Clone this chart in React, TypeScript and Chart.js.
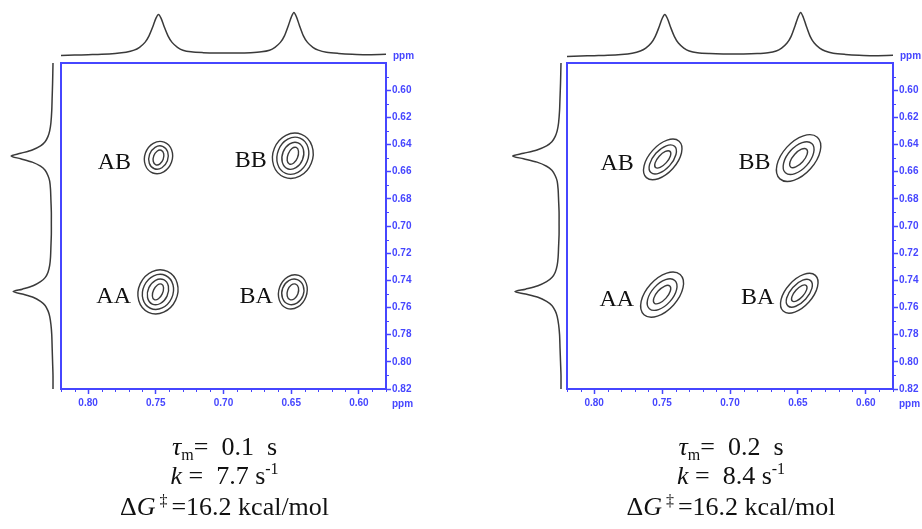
import React, { useEffect, useRef } from 'react';
import { Chart, registerables } from 'chart.js';

Chart.register(...registerables);

// ---------- data ----------
const axisMin = 0.58;
const axisMax = 0.82;
const tickStep = 0.01;

// 1D projections (ppm, relative intensity)
const topProjPpm = [0.820, 0.810, 0.800, 0.790, 0.780, 0.772, 0.766, 0.762, 0.758, 0.755, 0.752, 0.750, 0.748, 0.746, 0.744, 0.741, 0.738, 0.734, 0.730, 0.724, 0.715, 0.705, 0.698, 0.690, 0.680, 0.672, 0.666, 0.662, 0.658, 0.655, 0.652, 0.650, 0.648, 0.646, 0.644, 0.641, 0.638, 0.634, 0.630, 0.624, 0.615, 0.605, 0.595, 0.580];
const topProjInt = [0.00, 0.01, 0.02, 0.03, 0.05, 0.08, 0.13, 0.20, 0.32, 0.48, 0.72, 0.90, 1.00, 0.90, 0.72, 0.48, 0.32, 0.20, 0.13, 0.09, 0.07, 0.06, 0.06, 0.06, 0.07, 0.09, 0.13, 0.20, 0.32, 0.48, 0.74, 0.93, 1.05, 0.93, 0.74, 0.48, 0.32, 0.20, 0.13, 0.08, 0.05, 0.03, 0.02, 0.03];
const leftProjPpm = [0.580, 0.595, 0.605, 0.615, 0.624, 0.630, 0.634, 0.638, 0.641, 0.644, 0.6465, 0.6485, 0.6505, 0.653, 0.656, 0.659, 0.663, 0.667, 0.673, 0.681, 0.690, 0.698, 0.706, 0.715, 0.723, 0.729, 0.734, 0.738, 0.741, 0.744, 0.7465, 0.7483, 0.7501, 0.7525, 0.7555, 0.7585, 0.7625, 0.7665, 0.7725, 0.780, 0.790, 0.800, 0.810, 0.820];
const leftProjInt = [0.00, 0.01, 0.02, 0.03, 0.05, 0.08, 0.12, 0.19, 0.30, 0.50, 0.78, 1.01, 0.78, 0.50, 0.30, 0.19, 0.12, 0.08, 0.06, 0.05, 0.04, 0.04, 0.04, 0.05, 0.06, 0.08, 0.12, 0.19, 0.30, 0.48, 0.74, 0.96, 0.74, 0.48, 0.30, 0.19, 0.12, 0.08, 0.05, 0.03, 0.02, 0.01, 0.00, 0.00];

// cross peaks
const peakLabels = ['AB', 'BB', 'AA', 'BA'];

// panel 1 (tau_m = 0.1 s)
const p1PeakX = [0.748, 0.6488, 0.7484, 0.6488];
const p1PeakY = [0.6496, 0.6483, 0.7485, 0.7485];
const p1Tilt = [20, 22, 25, 20];
const p1Rings = [
  [[0.0037, 0.0057], [0.0070, 0.0088], [0.0102, 0.0121]],
  [[0.0037, 0.0066], [0.0077, 0.0103], [0.0114, 0.0140], [0.0147, 0.0170]],
  [[0.0035, 0.0063], [0.0074, 0.0099], [0.0111, 0.0133], [0.0144, 0.0166]],
  [[0.0040, 0.0061], [0.0080, 0.0096], [0.0103, 0.0129]],
];

// panel 2 (tau_m = 0.2 s)
const p2PeakX = [0.7495, 0.6495, 0.7500, 0.6490];
const p2PeakY = [0.6510, 0.6500, 0.7505, 0.7495];
const p2Tilt = [42, 42, 42, 42];
const p2Rings = [
  [[0.0035, 0.0080], [0.0068, 0.0130], [0.0100, 0.0180]],
  [[0.0040, 0.0088], [0.0080, 0.0145], [0.0118, 0.0206]],
  [[0.0039, 0.0085], [0.0077, 0.0140], [0.0114, 0.0199]],
  [[0.0033, 0.0077], [0.0064, 0.0125], [0.0096, 0.0177]],
];

// captions
const captionTau = ['0.1', '0.2'];
const captionK = ['7.7', '8.4'];
const captionDG = ['16.2', '16.2'];

// ---------- styles ----------
const BLUE = '#4646ff';
const INK = '#3a3a3a';
const SANS = '"Liberation Sans", Arial, sans-serif';
const SERIF = '"Liberation Serif", "Times New Roman", serif';
const W = 461;
const H = 529;
const AREA_TOP = 63;
const AREA_BOTTOM = 389;
const CAPTION_SIZE = 26;

const isMajorX = (v: number) => Math.round(v * 100) % 5 === 0;
const isMajorY = (v: number) => Math.round(v * 100) % 2 === 0;

type Seg = { t: string; it?: boolean; sm?: boolean; dy?: number };

function drawRich(ctx: CanvasRenderingContext2D, segs: Seg[], cx: number, base: number, size: number) {
  const fontFor = (s: Seg) => `${s.it ? 'italic ' : ''}${s.sm ? Math.round(size * 0.62) : size}px ${SERIF}`;
  let total = 0;
  for (const s of segs) {
    ctx.font = fontFor(s);
    total += ctx.measureText(s.t).width;
  }
  let xx = cx - total / 2;
  ctx.textAlign = 'left';
  ctx.textBaseline = 'alphabetic';
  for (const s of segs) {
    ctx.font = fontFor(s);
    ctx.fillText(s.t, xx, base + (s.dy || 0));
    xx += ctx.measureText(s.t).width;
  }
}

const decorPlugin = {
  id: 'panelDecor',
  afterDatasetsDraw(chart: any, _args: any, opts: any) {
    const { ctx, chartArea: a, scales } = chart;
    const x = scales.x;
    const y = scales.y;
    ctx.save();

    // frame
    ctx.strokeStyle = BLUE;
    ctx.lineWidth = 2;
    ctx.strokeRect(a.left, a.top, a.right - a.left, a.bottom - a.top);

    // minor ticks
    ctx.lineWidth = 1;
    for (const t of x.ticks) {
      if (isMajorX(t.value)) continue;
      const px = Math.round(x.getPixelForValue(t.value)) + 0.5;
      ctx.beginPath();
      ctx.moveTo(px, a.bottom);
      ctx.lineTo(px, a.bottom + 3);
      ctx.stroke();
    }
    for (const t of y.ticks) {
      if (isMajorY(t.value)) continue;
      const py = Math.round(y.getPixelForValue(t.value)) + 0.5;
      ctx.beginPath();
      ctx.moveTo(a.right, py);
      ctx.lineTo(a.right + 3, py);
      ctx.stroke();
    }

    // ppm unit labels
    ctx.fillStyle = BLUE;
    ctx.font = `bold 10px ${SANS}`;
    ctx.textAlign = 'left';
    ctx.textBaseline = 'middle';
    ctx.fillText('ppm', a.right + 7, a.top - 7);
    ctx.fillText('ppm', a.right + 6, a.bottom + 15);

    // contours
    ctx.strokeStyle = INK;
    ctx.lineWidth = 1.4;
    const { px: pX, py: pY, tilt, rings, labelGap } = opts;
    for (let i = 0; i < pX.length; i++) {
      const cx = x.getPixelForValue(pX[i]);
      const cy = y.getPixelForValue(pY[i]);
      for (const r of rings[i]) {
        const rx = Math.abs(x.getPixelForValue(pX[i] + r[0]) - cx);
        const ry = Math.abs(y.getPixelForValue(pY[i] + r[1]) - cy);
        ctx.beginPath();
        ctx.ellipse(cx, cy, rx, ry, (tilt[i] * Math.PI) / 180, 0, Math.PI * 2);
        ctx.stroke();
      }
      ctx.fillStyle = '#111';
      ctx.font = `24px ${SERIF}`;
      ctx.textAlign = 'right';
      ctx.textBaseline = 'alphabetic';
      ctx.fillText(peakLabels[i], cx - labelGap[i], cy + 11);
    }

    // caption
    const cxText = (a.left + a.right) / 2 + 1;
    ctx.fillStyle = '#111';
    drawRich(ctx, [{ t: 'τ', it: true }, { t: 'm', sm: true, dy: 5 }, { t: '=  ' + opts.tau + '  s' }], cxText, 455, CAPTION_SIZE);
    drawRich(ctx, [{ t: 'k', it: true }, { t: ' =  ' + opts.k + ' s' }, { t: '-1', sm: true, dy: -10 }], cxText, 484, CAPTION_SIZE);
    drawRich(ctx, [{ t: 'Δ' }, { t: 'G', it: true }, { t: ' ‡ ', sm: true, dy: -9 }, { t: '=' + opts.dg + ' kcal/mol' }], cxText, 515, CAPTION_SIZE);

    ctx.restore();
  },
};

type PanelProps = {
  left: number;
  right: number;
  topBase: number;
  topUnit: number;
  leftBase: number;
  leftUnit: number;
  px: number[];
  py: number[];
  tilt: number[];
  rings: number[][][];
  labelGap: number[];
  tau: string;
  k: string;
  dg: string;
};

function makeConfig(p: PanelProps): any {
  const areaH = AREA_BOTTOM - AREA_TOP;
  const areaW = p.right - p.left;
  const topMax = (p.topBase - AREA_TOP) / p.topUnit;
  const topMin = topMax - areaH / p.topUnit;
  const leftMax = (p.leftBase - p.left) / p.leftUnit;
  const leftMin = leftMax - areaW / p.leftUnit;
  const lineStyle = { showLine: true, borderColor: INK, borderWidth: 1.5, pointRadius: 0, tension: 0.3, clip: false, fill: false };
  return {
    type: 'scatter',
    data: {
      datasets: [
        { ...lineStyle, data: topProjPpm.map((v, i) => ({ x: v, y: topProjInt[i] })), xAxisID: 'x', yAxisID: 'yTop' },
        { ...lineStyle, data: leftProjPpm.map((v, i) => ({ x: leftProjInt[i], y: v })), xAxisID: 'xLeft', yAxisID: 'y' },
      ],
    },
    options: {
      animation: false,
      responsive: false,
      events: [],
      layout: { padding: { left: p.left, top: AREA_TOP, right: 0, bottom: 0 } },
      plugins: {
        legend: { display: false },
        tooltip: { enabled: false },
        panelDecor: { px: p.px, py: p.py, tilt: p.tilt, rings: p.rings, labelGap: p.labelGap, tau: p.tau, k: p.k, dg: p.dg },
      },
      scales: {
        x: {
          type: 'linear',
          axis: 'x',
          position: 'bottom',
          reverse: true,
          min: axisMin,
          max: axisMax,
          afterFit: (s: any) => { s.height = H - AREA_BOTTOM; },
          border: { display: false },
          grid: {
            drawOnChartArea: false,
            drawTicks: true,
            tickLength: 5,
            tickWidth: 1.5,
            tickColor: (c: any) => (c.tick && isMajorX(c.tick.value) ? BLUE : 'rgba(0,0,0,0)'),
          },
          ticks: {
            stepSize: tickStep,
            autoSkip: false,
            maxRotation: 0,
            padding: 3,
            color: BLUE,
            font: { size: 10, weight: 'bold', family: SANS },
            callback: (v: number) => (isMajorX(v) ? Number(v).toFixed(2) : ''),
          },
        },
        y: {
          type: 'linear',
          axis: 'y',
          position: 'right',
          reverse: true,
          min: axisMin,
          max: axisMax,
          afterFit: (s: any) => { s.width = W - p.right; },
          border: { display: false },
          grid: {
            drawOnChartArea: false,
            drawTicks: true,
            tickLength: 5,
            tickWidth: 1.5,
            tickColor: (c: any) => (c.tick && isMajorY(c.tick.value) && c.tick.value > 0.585 ? BLUE : 'rgba(0,0,0,0)'),
          },
          ticks: {
            stepSize: tickStep,
            autoSkip: false,
            padding: 1,
            color: BLUE,
            font: { size: 10, weight: 'bold', family: SANS },
            callback: (v: number) => (isMajorY(v) && v > 0.585 ? Number(v).toFixed(2) : ''),
          },
        },
        yTop: { type: 'linear', axis: 'y', display: false, min: topMin, max: topMax },
        xLeft: { type: 'linear', axis: 'x', display: false, reverse: true, min: leftMin, max: leftMax },
      },
    },
    plugins: [decorPlugin],
  };
}

function Panel({ p, offset }: { p: PanelProps; offset: number }) {
  const ref = useRef<HTMLCanvasElement | null>(null);
  useEffect(() => {
    if (!ref.current) return;
    const chart = new Chart(ref.current, makeConfig(p));
    return () => chart.destroy();
  }, []);
  return (
    <canvas
      ref={ref}
      width={W}
      height={H}
      style={{ position: 'absolute', left: offset, top: 0, width: W, height: H, display: 'block' }}
    />
  );
}

const panel1: PanelProps = {
  left: 61, right: 386, topBase: 55.5, topUnit: 41, leftBase: 53, leftUnit: 41.5,
  px: p1PeakX, py: p1PeakY, tilt: p1Tilt, rings: p1Rings, labelGap: [27.5, 26, 27, 20],
  tau: captionTau[0], k: captionK[0], dg: captionDG[0],
};
const panel2: PanelProps = {
  left: 106, right: 432, topBase: 56.5, topUnit: 42, leftBase: 100, leftUnit: 48,
  px: p2PeakX, py: p2PeakY, tilt: p2Tilt, rings: p2Rings, labelGap: [29, 28, 28, 25],
  tau: captionTau[1], k: captionK[1], dg: captionDG[1],
};

export default function App() {
  return (
    <div style={{ position: 'absolute', left: 0, top: 0, width: 922, height: 529, background: '#fff', overflow: 'hidden' }}>
      <Panel p={panel1} offset={0} />
      <Panel p={panel2} offset={W} />
    </div>
  );
}
